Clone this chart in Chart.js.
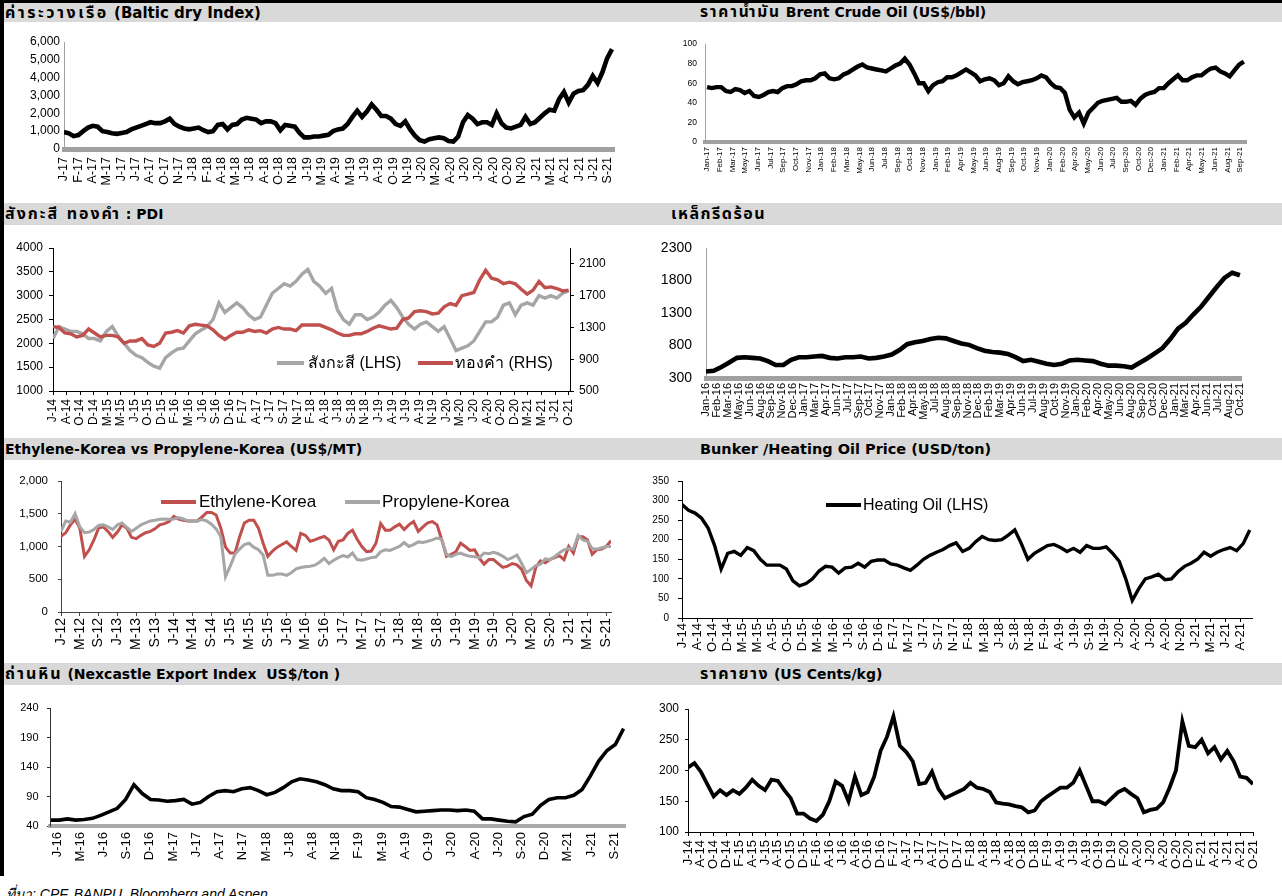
<!DOCTYPE html>
<html>
<head>
    <meta charset="utf-8">
    <title>Commodity Prices</title>
    <script src="https://cdn.jsdelivr.net/npm/chart.js@4.4.0/dist/chart.umd.min.js"></script>
    <style>
        body { margin: 0; background: #fff; }
        #page { position: relative; width: 1282px; height: 896px; overflow: hidden; }
        .blk { position: absolute; background: #000; }
        .bar { position: absolute; left: 4px; width: 1278px; background: #d9d9d9; }
        .title { position: absolute; font: bold 14px "DejaVu Sans", "Noto Sans Thai", sans-serif; white-space: pre; color: #000; }
        .th { font-size: 16px; letter-spacing: 2px; }
        canvas { position: absolute; }
        .leg { position: absolute; height: 4px; }
        .legtxt { position: absolute; font-family: "Liberation Sans", Arial, sans-serif; line-height: 20px; white-space: nowrap; color: #000; }
        #src { position: absolute; left: 6px; top: 883px; font: italic 14px "Liberation Sans", Arial, sans-serif; white-space: nowrap; }
    </style>
</head>
<body>
<div id="page">
    <div class="blk" style="left:0;top:0;width:4px;height:876px"></div>
    <div class="blk" style="left:0;top:0;width:1282px;height:3px"></div>

    <div class="bar" style="top:3px;height:19px"></div>
    <div class="bar" style="top:203px;height:22px"></div>
    <div class="bar" style="top:438px;height:22px"></div>
    <div class="bar" style="top:663px;height:22px"></div>

    <div class="title" style="left:5px;top:3px;line-height:19px;font-size:15px"><span class="th" style="letter-spacing:2.5px">ค่าระวางเรือ</span> (Baltic dry Index)</div>
    <div class="title" style="left:700px;top:3px;line-height:19px"><span class="th" style="font-size:15.5px;letter-spacing:1.8px">ราคาน้ำมัน</span> Brent Crude Oil (US$/bbl)</div>
    <div class="title" style="left:5px;top:203px;line-height:22px"><span class="th">สังกะสี ทองคำ</span> : PDI</div>
    <div class="title" style="left:671px;top:203px;line-height:22px"><span class="th" style="letter-spacing:1.5px">เหล็กรีดร้อน</span></div>
    <div class="title" style="left:5px;top:438px;line-height:22px">Ethylene-Korea vs Propylene-Korea (US$/MT)</div>
    <div class="title" style="left:700px;top:438px;line-height:22px;font-size:14.5px">Bunker /Heating Oil Price (USD/ton)</div>
    <div class="title" style="left:5px;top:663px;line-height:22px"><span class="th">ถ่านหิน</span> (Nexcastle Export Index  US$/ton )</div>
    <div class="title" style="left:700px;top:663px;line-height:22px"><span class="th" style="letter-spacing:1.5px">ราคายาง</span> (US Cents/kg)</div>

    <canvas id="baltic"></canvas>
    <canvas id="brent"></canvas>
    <canvas id="pdi"></canvas>
    <canvas id="steel"></canvas>
    <canvas id="olefin"></canvas>
    <canvas id="bunker"></canvas>
    <canvas id="coal"></canvas>
    <canvas id="rubber"></canvas>

    <div class="leg" style="left:277px;top:361px;width:27px;background:#a6a6a6"></div>
    <div class="legtxt" style="left:308px;top:353px;font-size:16px">สังกะสี (LHS)</div>
    <div class="leg" style="left:418px;top:361px;width:35px;background:#c0504d"></div>
    <div class="legtxt" style="left:455px;top:353px;font-size:16px">ทองคำ (RHS)</div>

    <div class="leg" style="left:161px;top:500px;width:35px;background:#c0504d"></div>
    <div class="legtxt" style="left:199px;top:492px;font-size:17px">Ethylene-Korea</div>
    <div class="leg" style="left:345px;top:500px;width:35px;background:#a6a6a6"></div>
    <div class="legtxt" style="left:382px;top:492px;font-size:17px">Propylene-Korea</div>

    <div class="leg" style="left:826px;top:503px;width:35px;background:#000"></div>
    <div class="legtxt" style="left:863px;top:495px;font-size:16px">Heating Oil (LHS)</div>

    <div id="src">ที่มา: CPF, BANPU, Bloomberg and Aspen</div>
</div>

<script>
    // tick labels
    var balticTicks = ['J-17','F-17','A-17','M-17','J-17','J-17','A-17','O-17','N-17','J-18','F-18','A-18','M-18','J-18','A-18','O-18','N-18','J-19','M-19','A-19','M-19','J-19','A-19','O-19','N-19','J-20','M-20','A-20','J-20','J-20','A-20','O-20','N-20','J-21','M-21','A-21','J-21','J-21','S-21'];
    var brentTicks = ['Jan-17','Feb-17','Mar-17','May-17','Jun-17','Jul-17','Sep-17','Oct-17','Nov-17','Jan-18','Feb-18','Mar-18','May-18','Jun-18','Jul-18','Sep-18','Oct-18','Nov-18','Jan-19','Feb-19','Apr-19','May-19','Jun-19','Aug-19','Sep-19','Oct-19','Nov-19','Jan-20','Feb-20','Apr-20','May-20','Jun-20','Jul-20','Sep-20','Oct-20','Dec-20','Jan-21','Feb-21','Apr-21','May-21','Jun-21','Aug-21','Sep-21'];
    var pdiTicks = ['J-14','A-14','O-14','D-14','M-15','M-15','J-15','O-15','D-15','F-16','M-16','J-16','S-16','D-16','F-17','A-17','J-17','S-17','N-17','F-18','A-18','J-18','S-18','N-18','J-19','A-19','J-19','A-19','N-19','J-20','M-20','J-20','A-20','O-20','D-20','M-21','M-21','J-21','O-21'];
    var steelTicks = ['Jan-16','Feb-16','Mar-16','May-16','Jun-16','Aug-16','Sep-16','Nov-16','Dec-16','Jan-17','Mar-17','Apr-17','Jun-17','Jul-17','Sep-17','Oct-17','Nov-17','Jan-18','Feb-18','Apr-18','May-18','Jul-18','Aug-18','Sep-18','Nov-18','Dec-18','Feb-19','Mar-19','Apr-19','Jun-19','Jul-19','Aug-19','Oct-19','Nov-19','Jan-20','Feb-20','Apr-20','May-20','Jun-20','Aug-20','Sep-20','Oct-20','Dec-20','Jan-21','Mar-21','Apr-21','Jun-21','Jul-21','Aug-21','Oct-21'];
    var olefinTicks = ['J-12','M-12','S-12','J-13','M-13','S-13','J-14','M-14','S-14','J-15','M-15','S-15','J-16','M-16','S-16','J-17','M-17','S-17','J-18','M-18','S-18','J-19','M-19','S-19','J-20','M-20','S-20','J-21','M-21','S-21'];
    var bunkerTicks = ['J-14','A-14','O-14','D-14','M-15','M-15','A-15','O-15','D-15','M-16','M-16','J-16','S-16','D-16','F-17','M-17','J-17','S-17','N-17','F-18','M-18','J-18','S-18','N-18','F-19','A-19','J-19','S-19','N-19','J-20','A-20','J-20','A-20','N-20','J-21','M-21','J-21','A-21'];
    var coalTicks = ['J-16','M-16','J-16','S-16','D-16','M-17','J-17','A-17','N-17','M-18','J-18','A-18','N-18','F-19','M-19','A-19','O-19','J-20','A-20','J-20','S-20','D-20','M-21','J-21','S-21'];
    var rubberTicks = ['J-14','A-14','O-14','D-14','F-15','A-15','J-15','A-15','O-15','D-15','F-16','A-16','J-16','A-16','O-16','D-16','F-17','A-17','J-17','A-17','O-17','D-17','F-18','A-18','J-18','A-18','O-18','D-18','F-19','A-19','J-19','A-19','O-19','D-19','F-20','A-20','J-20','A-20','O-20','D-20','F-21','A-21','J-21','A-21','O-21'];

    // series values
    var balticValues = [950,880,720,780,1000,1200,1300,1250,1000,950,880,850,900,950,1100,1200,1300,1400,1500,1450,1450,1550,1700,1400,
        1250,1150,1100,1150,1200,1050,950,1000,1350,1400,1100,1350,1400,1650,1750,1700,1650,1450,1550,1550,1450,1050,1350,1300,
        1250,900,650,650,700,700,750,800,1000,1100,1150,1400,1800,2150,1800,2100,2500,2200,1850,1850,1700,1400,1300,1550,
        1100,750,500,420,550,600,650,600,450,420,700,1500,1900,1700,1400,1500,1500,1350,2000,1450,1200,1150,1250,1350,
        1800,1400,1500,1750,2000,2200,2150,2800,3200,2600,3100,3250,3300,3600,4100,3700,4300,5100,5600];
    var brentValues = [56,55,56,56,52,51,54,53,50,52,47,46,48,51,52,51,55,57,57,59,62,63,63,65,
        69,70,65,64,65,69,71,74,77,79,76,75,74,73,72,75,78,80,85,79,70,60,60,52,
        58,61,62,66,66,68,71,74,71,68,62,64,65,63,58,60,67,62,59,61,62,63,65,68,
        66,60,56,55,50,33,25,30,19,30,35,40,42,43,44,45,41,41,42,38,44,48,50,51,
        55,55,60,64,68,63,63,66,68,68,72,75,76,72,70,67,73,79,82];
    var zincValues = [2100,2350,2300,2250,2250,2200,
        2100,2100,2050,2250,2350,2150,2000,1850,1750,1700,1600,1520,
        1480,1700,1800,1880,1900,2050,2200,2280,2350,2500,2850,2650,
        2750,2850,2750,2600,2500,2550,2800,3050,3150,3250,3200,3300,
        3450,3550,3300,3200,3050,3150,2700,2500,2400,2600,2600,2500,
        2550,2650,2800,2900,2750,2550,2400,2300,2400,2450,2350,2250,
        2350,2100,1850,1900,1950,2050,2250,2450,2450,2550,2800,2850,
        2600,2800,2850,2800,3000,2950,3000,2950,3050,3100];
    var goldValues = [1310,1300,1230,1220,1180,1200,
        1280,1230,1180,1200,1200,1180,1100,1130,1130,1160,1080,1060,
        1100,1230,1240,1260,1230,1320,1340,1330,1320,1270,1200,1150,
        1200,1240,1240,1270,1250,1260,1230,1280,1300,1280,1280,1260,
        1330,1330,1330,1330,1300,1270,1230,1200,1200,1220,1220,1250,
        1290,1320,1300,1280,1290,1400,1420,1500,1510,1500,1470,1480,
        1560,1600,1580,1700,1720,1740,1900,2020,1920,1900,1850,1870,
        1850,1780,1720,1770,1880,1800,1810,1790,1760,1770];
    var steelValues = [400,410,470,540,610,620,610,600,560,500,500,580,
        620,620,630,640,610,600,620,620,630,600,610,630,
        660,730,820,850,870,900,920,910,870,830,810,760,
        720,700,690,670,620,560,580,550,520,500,520,570,
        580,570,560,520,490,490,480,460,530,600,680,760,
        900,1060,1150,1280,1400,1550,1700,1840,1920,1880];
    var ethyleneValues = [1155,1210,1330,1415,1280,850,950,1100,1280,1300,1230,1140,
        1220,1330,1280,1140,1120,1170,1210,1230,1270,1330,1350,1380,
        1460,1420,1400,1390,1390,1390,1450,1520,1520,1480,1280,990,
        900,900,1150,1360,1400,1400,1280,1050,850,930,990,1030,
        1070,1000,940,1200,1170,1080,1100,1130,1155,1100,950,1080,
        1100,1200,1250,1110,1000,920,930,1050,1350,1250,1250,1300,
        1340,1260,1330,1380,1230,1300,1360,1380,1330,1100,850,880,
        920,1050,1000,940,950,820,730,800,800,740,680,700,
        740,720,650,480,400,680,780,750,800,830,860,800,
        1000,900,1150,1150,1100,880,950,960,1000,1090];
    var propyleneValues = [1230,1390,1370,1500,1300,1210,1220,1260,1320,1330,1300,1260,
        1330,1360,1290,1230,1280,1330,1360,1390,1400,1415,1420,1415,
        1420,1440,1420,1390,1390,1390,1410,1390,1340,1270,1150,540,
        700,880,960,1030,1050,990,950,870,560,560,580,580,
        560,600,660,680,690,700,715,760,820,740,790,830,
        860,840,900,800,790,810,830,840,920,950,940,970,
        1000,1060,1000,1030,1070,1060,1080,1100,1130,1110,880,845,
        880,900,870,850,845,830,900,890,910,890,850,800,
        830,870,740,600,650,710,730,810,800,845,900,950,
        970,960,1170,1100,1080,970,960,980,1000,1000];
    var heatingOilValues = [290,275,268,255,230,185,
        125,165,170,160,180,172,150,135,135,135,125,95,
        82,88,100,120,132,130,115,128,130,140,130,145,
        148,148,138,135,128,122,135,150,160,168,175,185,
        192,170,178,195,208,200,198,200,212,225,190,150,
        165,175,185,188,180,170,178,168,185,178,178,182,
        165,145,100,45,75,100,105,112,98,100,118,132,
        140,150,168,158,168,175,180,172,190,225];
    var coalValues = [50,50,52,50,51,53,58,64,70,85,110,95,
        85,84,82,83,85,77,80,90,98,100,98,103,
        105,100,93,97,105,115,120,118,115,110,103,100,
        100,98,88,85,80,73,72,68,64,65,66,67,
        67,66,67,65,52,52,50,48,47,56,60,75,
        85,88,88,92,102,125,150,168,178,205];
    var rubberValues = [205,212,198,178,158,168,160,
        168,162,172,185,175,168,185,183,168,155,130,130,
        122,118,128,150,182,175,150,190,160,165,190,232,
        255,288,240,230,215,178,180,198,170,155,160,165,
        170,180,172,170,165,148,146,145,142,140,132,135,
        150,158,165,172,172,180,200,175,150,150,145,155,
        165,170,162,155,132,136,138,148,172,200,280,240,
        238,250,228,238,218,232,215,190,188,178];

    var FONT = '"Liberation Sans", Arial, sans-serif';
    var RED = '#c0504d', GREY = '#a6a6a6';

    function axisGrid(tick, color) {
        if (!tick) return { display: false, drawTicks: false };
        return { display: true, drawOnChartArea: false, drawTicks: true, tickLength: tick, color: color || '#000' };
    }

    function yScale(c, w, pos) {
        return {
            type: 'linear', position: pos, min: c.min, max: c.max,
            afterFit: function(s) { s.width = w; s.paddingTop = 0; s.paddingBottom = 0; },
            ticks: {
                stepSize: c.step, padding: c.pad, color: '#000',
                font: { family: FONT, size: c.size },
                callback: function(v) { return c.comma ? v.toLocaleString('en-US') : v; }
            },
            grid: axisGrid(c.tick, c.border),
            border: { display: true, color: c.border, width: c.bw || 1 }
        };
    }

    function panel(id, o) {
        var pad = 10;
        var left = Math.round(o.plot[0] - o.yW);
        var top = Math.round(o.plot[1] - pad);
        var right = Math.round(o.plot[2] + (o.rW || pad));
        var bottom = Math.round(o.plot[3] + o.xH);
        var cv = document.getElementById(id);
        cv.width = right - left;
        cv.height = bottom - top;
        cv.style.left = left + 'px';
        cv.style.top = top + 'px';

        var xStart = o.xStart || 0;
        var datasets = o.series.map(function(s) {
            var n = s.values.length;
            return {
                data: s.values.map(function(v, i) { return { x: xStart + i * (o.xEnd - xStart) / (n - 1), y: v }; }),
                borderColor: s.color, borderWidth: s.width, pointRadius: 0, tension: 0,
                fill: false, yAxisID: s.axis || 'y'
            };
        });

        var scales = {
            x: {
                type: 'linear', min: o.xMin || 0, max: o.xMax,
                afterBuildTicks: function(s) { s.ticks = o.ticks.map(function(t, i) { return { value: i }; }); },
                afterFit: function(s) { s.height = o.xH; s.paddingLeft = 0; s.paddingRight = 0; },
                ticks: {
                    autoSkip: false, maxRotation: 90, minRotation: 90, padding: o.x.pad, color: '#000',
                    font: { family: FONT, size: o.x.size },
                    callback: function(v, i) { return o.ticks[i]; }
                },
                grid: axisGrid(o.x.tick, o.x.border),
                border: { display: true, color: o.x.border, width: o.x.bw }
            },
            y: yScale(o.y, o.yW, 'left')
        };
        if (o.y1) scales.y1 = yScale(o.y1, o.rW, 'right');

        return new Chart(cv, {
            type: 'line',
            data: { datasets: datasets },
            options: {
                responsive: false, animation: false, events: [],
                layout: { padding: { top: pad, right: o.rW ? 0 : pad, left: 0, bottom: 0 } },
                plugins: { legend: { display: false }, tooltip: { enabled: false } },
                scales: scales
            }
        });
    }

    panel('baltic', {
        plot: [64, 42, 614, 149], yW: 40, xH: 38,
        xMax: 38.44, xEnd: 38.3, ticks: balticTicks,
        x: { size: 12.5, pad: 8, border: '#a0a0a0', bw: 5 },
        y: { min: 0, max: 6000, step: 1000, comma: true, size: 12, pad: 4, border: '#a0a0a0' },
        series: [{ values: balticValues, color: '#000', width: 4.6 }]
    });

    panel('brent', {
        plot: [705, 44.3, 1246, 141.7], yW: 30, xH: 32,
        xMin: -0.16, xMax: 42.47, xEnd: 42.3, ticks: brentTicks,
        x: { size: 8, pad: 5, border: '#a0a0a0', bw: 4 },
        y: { min: 0, max: 100, step: 20, size: 8.5, pad: 8, border: '#a0a0a0' },
        series: [{ values: brentValues, color: '#000', width: 4.4 }]
    });

    panel('pdi', {
        plot: [53, 247.7, 570, 390.7], yW: 45, rW: 42, xH: 36,
        xMax: 38.1, xEnd: 38, ticks: pdiTicks,
        x: { size: 12, pad: 4, tick: 4, border: '#000', bw: 1 },
        y: { min: 1000, max: 4000, step: 500, size: 12, pad: 6, tick: 4, border: '#000' },
        y1: { min: 500, max: 2300, step: 200, size: 12, pad: 5, tick: 4, border: '#000' },
        series: [
            { values: goldValues, color: RED, width: 3.4, axis: 'y1' },
            { values: zincValues, color: GREY, width: 3.4 }
        ]
    });

    panel('steel', {
        plot: [705.5, 247.7, 1241, 378.3], yW: 55, xH: 45,
        xMax: 49.1, xEnd: 49, ticks: steelTicks,
        x: { size: 11, pad: 5, border: '#a0a0a0', bw: 5 },
        y: { min: 300, max: 2300, step: 500, size: 14, pad: 14, border: '#a0a0a0' },
        series: [{ values: steelValues, color: '#000', width: 4.6 }]
    });

    panel('olefin', {
        plot: [61.2, 481, 611, 611.7], yW: 55, xH: 40,
        xMax: 29.25, xEnd: 29.25, ticks: olefinTicks,
        x: { size: 14, pad: 2, tick: 4, border: '#444', bw: 1 },
        y: { min: 0, max: 2000, step: 500, comma: true, size: 11.5, pad: 10, tick: 3, border: '#444' },
        series: [
            { values: propyleneValues, color: GREY, width: 3 },
            { values: ethyleneValues, color: RED, width: 3 }
        ]
    });

    panel('bunker', {
        plot: [682, 481, 1252, 617.7], yW: 40, xH: 36,
        xMax: 37.75, xEnd: 37.6, ticks: bunkerTicks,
        x: { size: 13, pad: 1, tick: 4, border: '#000', bw: 1 },
        y: { min: 0, max: 350, step: 50, size: 10, pad: 9, tick: 4, border: '#000' },
        series: [{ values: heatingOilValues, color: '#000', width: 3.4 }]
    });

    panel('coal', {
        plot: [50.2, 707.7, 624.5, 825.7], yW: 40, xH: 36,
        xMin: -0.3, xMax: 24.46, xStart: -0.26, xEnd: 24.4, ticks: coalTicks,
        x: { size: 13, pad: 6, border: '#aaaaaa', bw: 4 },
        y: { min: 40, max: 240, step: 50, size: 11, pad: 8.5, tick: 3, border: '#333' },
        series: [{ values: coalValues, color: '#000', width: 3.6 }]
    });

    panel('rubber', {
        plot: [688.3, 709.3, 1253, 831.7], yW: 40, xH: 40,
        xMax: 44, xEnd: 44, ticks: rubberTicks,
        x: { size: 13, pad: 4, tick: 4, border: '#000', bw: 1 },
        y: { min: 100, max: 300, step: 50, size: 12, pad: 6, tick: 3, border: '#000' },
        series: [{ values: rubberValues, color: '#000', width: 3.8 }]
    });
</script>
</body>
</html>
